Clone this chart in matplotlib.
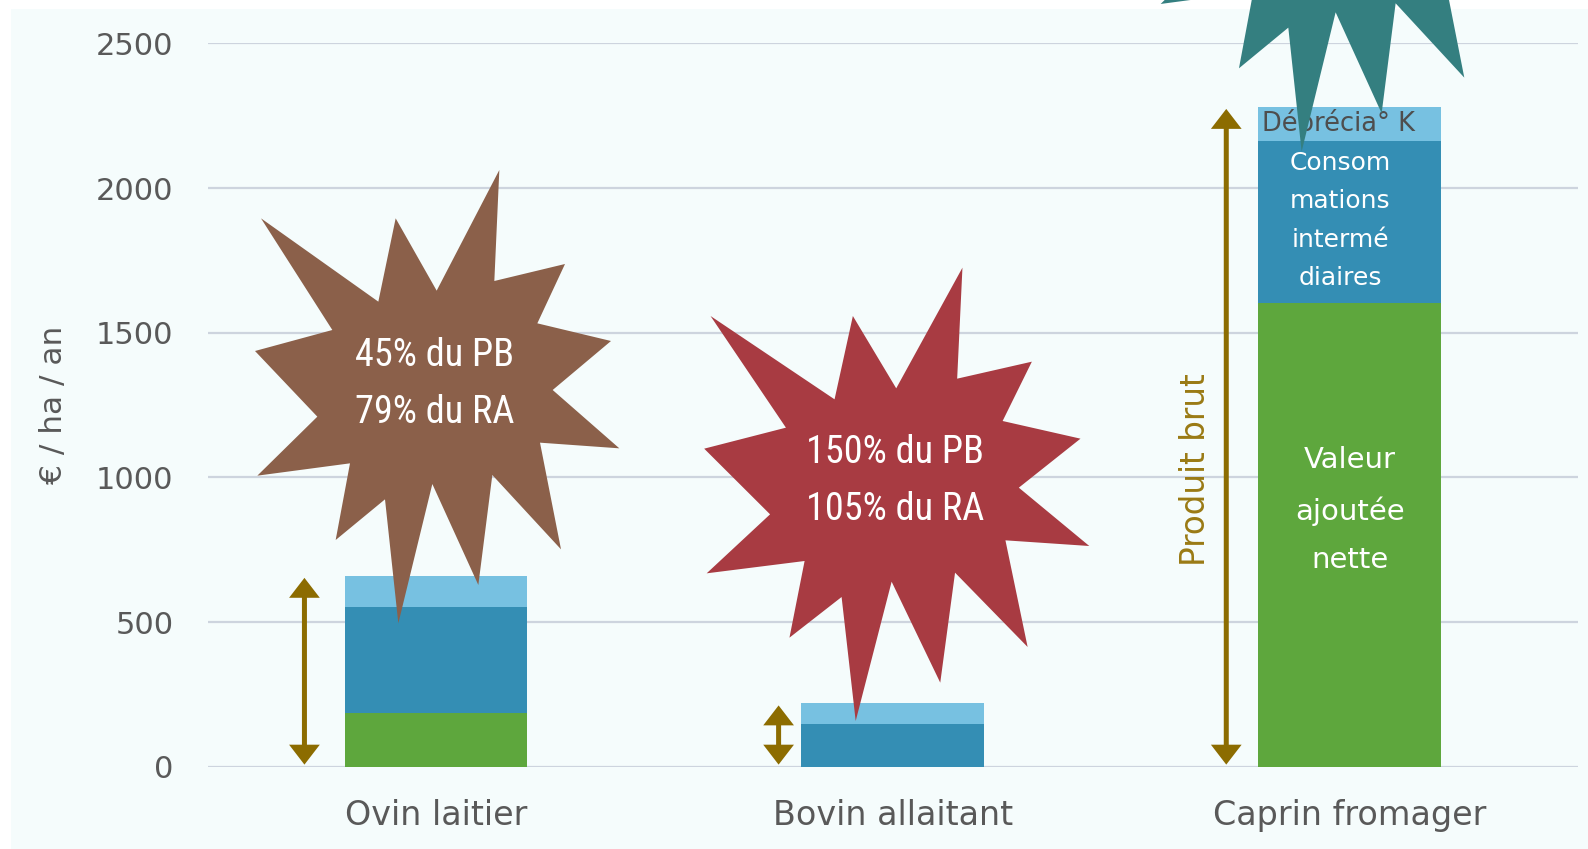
import matplotlib
matplotlib.use("Agg")
import matplotlib.pyplot as plt
from matplotlib.patches import Polygon, Rectangle

# ---------------- data ----------------
categories = ["Ovin laitier", "Bovin allaitant", "Caprin fromager"]
valeur_ajoutee = [186, 0, 1602]
consommations = [365, 146, 562]
depreciation = [109, 73, 117]
yticks = [0, 500, 1000, 1500, 2000, 2500]
star_texts = ["45% du PB\n79% du RA", "150% du PB\n105% du RA"]
arrow_offsets = [-0.288, -0.25, -0.27]

# ---------------- style ----------------
W, H = 1588, 849
FONT = ["DejaVu Sans"]
COND = ["Liberation Sans Narrow", "Roboto Condensed", "DejaVu Sans"]
c_green, c_mid, c_light = "#5EA73D", "#348EB4", "#77C1E1"
c_arrow = "#8C6C00"
c_tick = "#595959"

fig = plt.figure(figsize=(W / 100, H / 100), dpi=100, facecolor="white")
# light panel background
fig.add_artist(Rectangle((11 / W, 0), 1 - 11 / W, 1 - 9 / H, transform=fig.transFigure,
                         facecolor="#F5FCFC", edgecolor="none", zorder=0))

ax = fig.add_axes([207.6 / W, 1 - 766.7 / H, (1578 - 207.6) / W, (766.7 - 43.5) / H])
ax.set_facecolor("none")
ax.set_xlim(-0.5, 2.5)
ax.set_ylim(0, 2500)

x = list(range(len(categories)))
bw = 0.4
ax.bar(x, valeur_ajoutee, bw, color=c_green, zorder=3)
bottom2 = valeur_ajoutee
ax.bar(x, consommations, bw, bottom=bottom2, color=c_mid, zorder=3)
bottom3 = [a + b for a, b in zip(valeur_ajoutee, consommations)]
ax.bar(x, depreciation, bw, bottom=bottom3, color=c_light, zorder=3)
totals = [a + b for a, b in zip(bottom3, depreciation)]

ax.set_yticks(yticks)
ax.set_xticks(x)
ax.set_xticklabels(categories, fontsize=24, color=c_tick, family=FONT)
for lbl in ax.get_yticklabels():
    lbl.set_fontsize(22)
    lbl.set_color(c_tick)
    lbl.set_family(FONT)
ax.tick_params(axis="y", length=0, pad=24.5)
ax.tick_params(axis="x", length=0, pad=23)
ax.grid(axis="y", color="#CDD4DE", lw=1.6, zorder=1)
for s in ax.spines.values():
    s.set_visible(False)

ax.set_ylabel("€ / ha / an", fontsize=22.5, color=c_tick, family=FONT)
ax.yaxis.set_label_coords(-0.1017, 0.5)

# double arrows (produit brut)
for xi, off, tot in zip(x, arrow_offsets, totals):
    ax.annotate("", xy=(xi + off, tot), xytext=(xi + off, 0),
                arrowprops=dict(arrowstyle="<|-|>,head_length=0.48,head_width=0.37",
                                mutation_scale=20, joinstyle="miter", capstyle="butt",
                                color=c_arrow, lw=3.6, shrinkA=1.5, shrinkB=1.5),
                zorder=4)
ax.text(2 - 0.337, 1028, "Produit brut", rotation=90, ha="center", va="center",
        fontsize=23.5, color="#9A7A14", family=FONT, zorder=4)

# labels in caprin bar
ax.text(2, 887, "Valeur\najoutée\nnette", ha="center", va="center", color="white",
        fontsize=21, family=FONT, linespacing=1.95, zorder=5)
ax.text(1.98, 1888, "Consom\nmations\nintermé\ndiaires", ha="center", va="center",
        color="white", fontsize=18, family=FONT, linespacing=1.75, zorder=5)
ax.text(1.975, 2226, "Déprécia° K", ha="center", va="center", color="#4E4E4E",
        fontsize=18.5, family=FONT, zorder=5)

# ---------------- stars (decorative, pixel template) ----------------
star_zx = [63, 415, 467, 590, 778, 763, 975, 892, 1113, 938, 1138, 900,
           963, 757, 715, 577, 475, 435, 287, 330, 52, 232, 45, 277]
star_zy = [175, 425, 175, 392, 30, 363, 312, 490, 543, 690, 865, 848,
           1168, 945, 1275, 972, 1390, 1018, 1140, 910, 947, 770, 573, 510]


def add_star(ox, oy, sx, sy, dx, dy, color):
    pts = [((ox + (sx * zx + dx) / 3) / W, 1 - (oy + (sy * zy + dy) / 3) / H)
           for zx, zy in zip(star_zx, star_zy)]
    fig.add_artist(Polygon(pts, closed=True, transform=fig.transFigure,
                           facecolor=color, edgecolor="none", zorder=10))


add_star(240, 160, 1.0, 1.0, 0, 0, "#8B604A")
add_star(690, 255, 1.057, 1.0, -5, 8, "#A83B42")
add_star(1143.3, -311.7, 1.0, 1.0, 0, 0, "#347F80")

star_pos = [(435, 384), (895, 481)]
for (px, py), t in zip(star_pos, star_texts):
    fig.text(px / W, 1 - py / H, t, ha="center", va="center", color="white",
             fontsize=27.5, family=COND, linespacing=1.68, zorder=11)

fig.savefig("out.png", dpi=100, facecolor="white")
